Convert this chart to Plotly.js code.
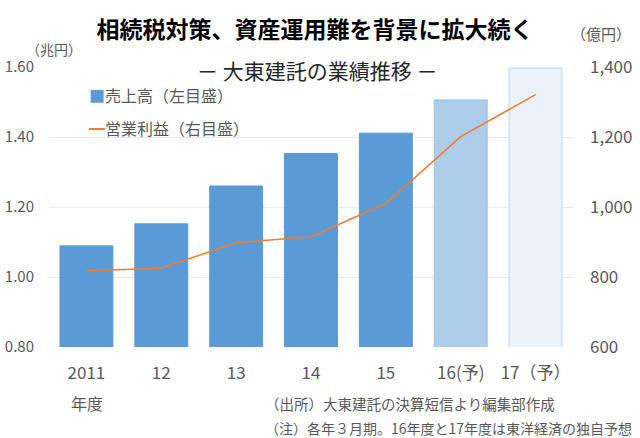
<!DOCTYPE html>
<html>
<head>
<meta charset="utf-8">
<script src="https://cdn.plot.ly/plotly-3.0.1.min.js"></script>
<style>
  html, body { margin: 0; padding: 0; background: #fff; }
  #chart { width: 640px; height: 438px; }
</style>
</head>
<body>
<div id="chart"></div>
<script>
// 年度 (category labels)
var years = ['2011', '12', '13', '14', '15', '16(予)', '17（予）'];
// 売上高 (兆円, left axis)
var sales = [1.089, 1.152, 1.26, 1.353, 1.411, 1.506, 1.597];
// 営業利益 (億円, right axis)
var operatingProfit = [818, 825, 898, 915, 1010, 1201, 1321];

var FONT = '"Noto Sans CJK JP", "Noto Sans", sans-serif';
var GREY = '#595959';

// actuals in solid blue, forecasts lighter
var barColours = ['#5B9BD5', '#5B9BD5', '#5B9BD5', '#5B9BD5', '#5B9BD5', '#ADCDEA', '#EAF2FA'];
var barEdges = ['#5B9BD5', '#5B9BD5', '#5B9BD5', '#5B9BD5', '#5B9BD5', '#9DC3E6', '#BDD7EE'];

var salesTrace = {
    x: years,
    y: sales,
    type: 'bar',
    name: '売上高（左目盛）',
    marker: {
        color: barColours,
        line: { color: barEdges, width: 1 }
    },
    hoverinfo: 'x+y'
};

var profitTrace = {
    x: years,
    y: operatingProfit,
    type: 'scatter',
    mode: 'lines',
    name: '営業利益（右目盛）',
    yaxis: 'y2',
    line: { color: '#ED7D31', width: 1.6 },
    hoverinfo: 'x+y'
};

var layout = {
    width: 640,
    height: 438,
    margin: { l: 49, r: 67, t: 67, b: 91 },
    paper_bgcolor: '#fff',
    plot_bgcolor: '#fff',
    showlegend: false,
    bargap: 0.293,
    font: { family: FONT, color: GREY, size: 15 },
    title: {
        text: '<b>相続税対策、資産運用難を背景に拡大続く</b>',
        font: { family: FONT, size: 23, color: '#000' },
        x: 0.492,
        xanchor: 'center',
        y: 1 - 30 / 438,
        yanchor: 'middle'
    },
    xaxis: {
        type: 'category',
        showgrid: false,
        zeroline: false,
        showline: false,
        ticks: '',
        ticklabelstandoff: 14,
        tickfont: { family: FONT, size: 17, color: GREY }
    },
    yaxis: {
        range: [0.8, 1.6],
        dtick: 0.2,
        tickformat: '.2f',
        gridcolor: '#E9E9E9',
        gridwidth: 1,
        zeroline: false,
        showline: false,
        ticklabelstandoff: 14,
        tickfont: { family: FONT, size: 15, color: GREY }
    },
    yaxis2: {
        overlaying: 'y',
        side: 'right',
        range: [600, 1400],
        dtick: 200,
        tickformat: ',d',
        showgrid: false,
        zeroline: false,
        showline: false,
        ticklabelstandoff: 16,
        tickfont: { family: FONT, size: 17, color: GREY }
    },
    annotations: [
        {
            xref: 'paper', yref: 'paper',
            x: 0.5115, y: 0.989,
            xanchor: 'center', yanchor: 'middle',
            text: '－ 大東建託の業績推移 －',
            showarrow: false,
            font: { family: FONT, size: 21, color: '#262626' }
        },
        {
            xref: 'paper', yref: 'paper',
            x: 0.0095, y: 1.064,
            xanchor: 'center', yanchor: 'middle',
            text: '（兆円）',
            showarrow: false,
            font: { family: FONT, size: 14, color: GREY }
        },
        {
            xref: 'paper', yref: 'paper',
            x: 1.053, y: 1.121,
            xanchor: 'center', yanchor: 'middle',
            text: '（億円）',
            showarrow: false,
            font: { family: FONT, size: 15, color: GREY }
        },
        // legend
        {
            xref: 'paper', yref: 'paper',
            x: 0.0725, y: 0.9,
            xanchor: 'left', yanchor: 'middle',
            text: '<span style="color:#5B9BD5">■</span>売上高（左目盛）',
            showarrow: false,
            font: { family: FONT, size: 16, color: GREY }
        },
        {
            xref: 'paper', yref: 'paper',
            x: 0.0725, y: 0.782,
            xanchor: 'left', yanchor: 'middle',
            text: '<span style="color:#ED7D31">━</span>営業利益（右目盛）',
            showarrow: false,
            font: { family: FONT, size: 16, color: GREY }
        },
        {
            xref: 'paper', yref: 'paper',
            x: 0.0716, y: -0.2,
            xanchor: 'center', yanchor: 'middle',
            text: '年度',
            showarrow: false,
            font: { family: FONT, size: 16, color: GREY }
        },
        {
            xref: 'paper', yref: 'paper',
            x: 0.408, y: -0.2,
            xanchor: 'left', yanchor: 'middle',
            text: '（出所）大東建託の決算短信より編集部作成',
            showarrow: false,
            font: { family: FONT, size: 14.5, color: GREY }
        },
        {
            xref: 'paper', yref: 'paper',
            x: 0.408, y: -0.289,
            xanchor: 'left', yanchor: 'middle',
            text: '（注）各年３月期。16年度と17年度は東洋経済の独自予想',
            showarrow: false,
            font: { family: FONT, size: 14, color: GREY }
        }
    ]
};

var configuration = { displayModeBar: false, staticPlot: true };

Plotly.newPlot('chart', [salesTrace, profitTrace], layout, configuration);
</script>
</body>
</html>
